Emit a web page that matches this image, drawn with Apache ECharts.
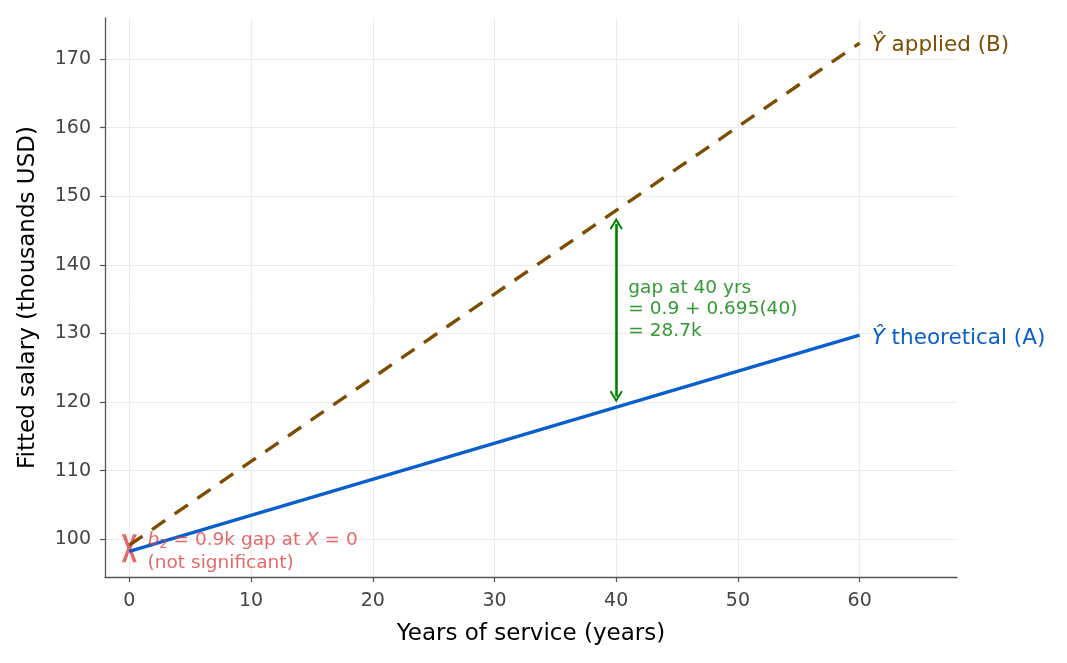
<!DOCTYPE html>
<html>
<head>
<meta charset="utf-8">
<script src="https://cdn.jsdelivr.net/npm/echarts@6/dist/echarts.min.js"></script>
<style>
  html, body { margin: 0; padding: 0; background: #fff; }
  #chart { width: 1067px; height: 663px; }
</style>
</head>
<body>
<div id="chart"></div>
<script>
// years of service at the ends of the fitted lines
const years = [0, 60]
// fitted salary, thousands USD
const theoretical = [98.25, 129.75]
const applied = [99.15, 172.35]
// b2 marker spanning both intercepts
const interceptMark = [0, 98.7]
// gap arrow at 40 yrs (drawn a little short of the lines)
const gapYear = 40
const gapFrom = 146.0
const gapTo = 120.8
const xTicks = [0, 10, 20, 30, 40, 50, 60]
const yTicks = [100, 110, 120, 130, 140, 150, 160, 170]

const font = 'DejaVu Sans'
const blue = '#0b5fcc'
const brown = '#7d4e00'
const green = '#008000'
const red = '#e04444'

const xMark = 'path://M0,0 L2.6,0 L5,3.7 L7.4,0 L10,0 L6.4,5 L10,10 L7.4,10 L5,6.3 L2.6,10 L0,10 L3.6,5 Z'
const chevron = 'path://M0,0 L6,9 L4.6,10 L0,3.2 L-4.6,10 L-6,9 Z'

const chart = echarts.init(document.getElementById('chart'))
chart.setOption({
  animation: false,
  textStyle: { fontFamily: font },
  grid: { left: 105, right: 110, top: 18, bottom: 86 },
  xAxis: {
    type: 'value',
    min: -2,
    max: 68,
    name: 'Years of service (years)',
    nameLocation: 'middle',
    nameGap: 46,
    nameTextStyle: { fontSize: 23, color: '#000', fontFamily: font },
    axisLine: { onZero: false, lineStyle: { color: '#555', width: 1.3 } },
    axisTick: { show: true, length: 5, customValues: xTicks, lineStyle: { color: '#555', width: 1.2 } },
    axisLabel: { customValues: xTicks, fontSize: 19, color: '#444', margin: 15, fontFamily: font },
    splitLine: { show: true, lineStyle: { color: '#ebebeb' } }
  },
  yAxis: {
    type: 'value',
    min: 94.5,
    max: 176,
    name: 'Fitted salary (thousands USD)',
    nameLocation: 'middle',
    nameGap: 65,
    nameTextStyle: { fontSize: 23, color: '#000', fontFamily: font },
    axisLine: { show: true, onZero: false, lineStyle: { color: '#555', width: 1.3 } },
    axisTick: { show: true, length: 5, customValues: yTicks, lineStyle: { color: '#555', width: 1.2 } },
    axisLabel: { customValues: yTicks, fontSize: 19, color: '#444', margin: 14, fontFamily: font },
    splitLine: { show: true, lineStyle: { color: '#ebebeb' } }
  },
  series: [
    {
      name: 'theoretical',
      type: 'line',
      data: years.map((x, i) => [x, theoretical[i]]),
      showSymbol: false,
      lineStyle: { color: blue, width: 3.4 },
      endLabel: {
        show: true,
        distance: 12,
        fontSize: 21.5,
        color: blue,
        padding: [6, 0, 0, 0],
        formatter: '{i|Ŷ} theoretical (A)',
        rich: { i: { fontStyle: 'italic', fontSize: 21.5, color: blue } }
      },
      z: 4
    },
    {
      name: 'applied',
      type: 'line',
      data: years.map((x, i) => [x, applied[i]]),
      showSymbol: false,
      lineStyle: { color: brown, width: 3.4, type: [16, 11.5] },
      endLabel: {
        show: true,
        distance: 12,
        fontSize: 21.5,
        color: brown,
        padding: [4, 0, 0, 0],
        formatter: '{i|Ŷ} applied (B)',
        rich: { i: { fontStyle: 'italic', fontSize: 21.5, color: brown } }
      },
      markLine: {
        silent: true,
        symbol: [chevron, chevron],
        symbolSize: [13, 12],
        label: { show: false },
        lineStyle: { color: green, width: 2.6, type: 'solid' },
        itemStyle: { color: green },
        data: [[{ coord: [gapYear, gapFrom] }, { coord: [gapYear, gapTo] }]]
      },
      z: 4
    },
    {
      // b2 marker at X = 0
      name: 'intercepts',
      type: 'scatter',
      data: [interceptMark],
      symbol: xMark,
      symbolSize: [15, 28],
      itemStyle: { color: red },
      z: 3
    },
    {
      name: 'notes',
      type: 'scatter',
      symbolSize: 0,
      silent: true,
      data: [
        {
          value: [1.5, 98.2],
          label: {
            show: true,
            position: 'right',
            distance: 0,
            color: red,
            fontSize: 18.5,
            lineHeight: 23,
            formatter: '{i|b}{s|2} = 0.9k gap at {i|X} = 0\n(not significant)',
            rich: {
              i: { fontStyle: 'italic', fontSize: 18.5, color: red },
              s: { fontSize: 13, color: red, padding: [10, 0, 0, 0] }
            }
          }
        },
        {
          value: [41, 133.5],
          label: {
            show: true,
            position: 'right',
            distance: 0,
            color: green,
            fontSize: 18.5,
            lineHeight: 21.5,
            formatter: 'gap at 40 yrs\n= 0.9 + 0.695(40)\n= 28.7k'
          }
        }
      ],
      z: 5
    }
  ]
})
</script>
</body>
</html>
